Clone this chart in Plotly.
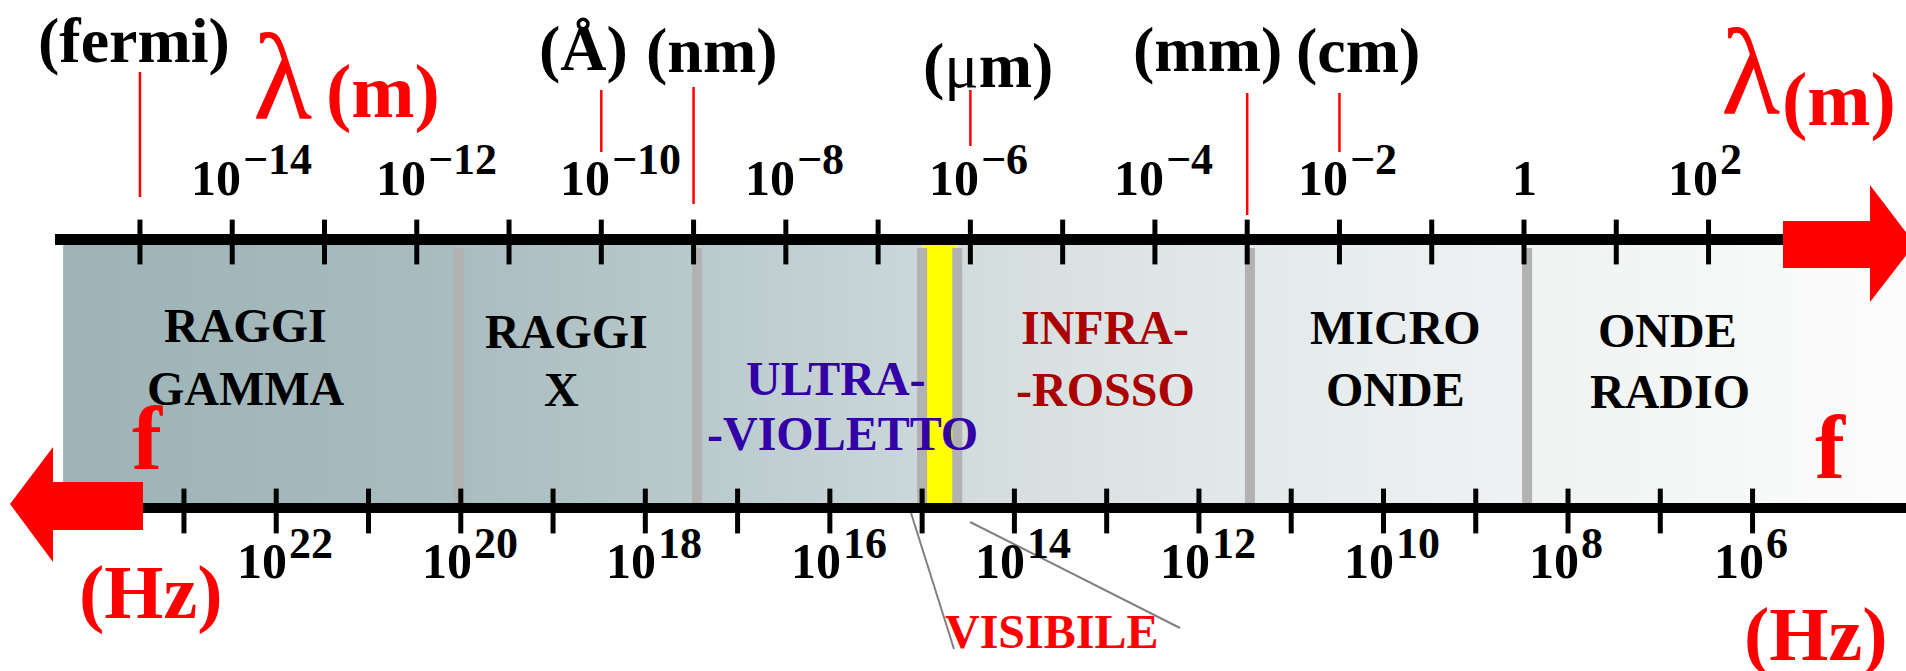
import numpy as np
import plotly.graph_objects as go

W, H = 1906, 671
FONT = "Liberation Serif"
RED = "#FF0000"

# ---------------------------------------------------------------- data
C_LIGHT = 3e8  # m/s, links frequency ticks to the wavelength scale

# wavelength axis (top): one tick per decade, labels every second decade
lam_tick_exp = [-15, -14, -13, -12, -11, -10, -9, -8, -7, -6, -5, -4, -3, -2, -1, 0, 1, 2]
lam_label_exp = [-14, -12, -10, -8, -6, -4, -2, 0, 2]

# frequency axis (bottom), in Hz
freq_tick_exp = [23, 22, 21, 20, 19, 18, 17, 16, 15, 14, 13, 12, 11, 10, 9, 8, 7, 6]
freq_label_exp = [22, 20, 18, 16, 14, 12, 10, 8, 6]

# named length units marked above the wavelength axis
unit_names = ["(fermi)", "(Å)", "(nm)", "(<span style='font-weight:normal'>μ</span>m)", "(mm)", "(cm)"]
unit_lam = [1e-15, 1e-10, 1e-9, 1e-6, 1e-3, 1e-2]

# spectral regions: boundaries between neighbouring regions (m)
band_edges_lam = [2.85e-12, 1.09e-9, 3.0e-7, 7.2e-7, 1.07e-3, 1.08]
visible_lam = [3.0e-7, 7.2e-7]
band_names = [("RAGGI", "GAMMA"), ("RAGGI", "X"), ("ULTRA-", "-VIOLETTO"),
              ("INFRA-", "-ROSSO"), ("MICRO", "ONDE"), ("ONDE", "RADIO")]
band_label_lam = [1.4e-14, 4.0e-11, 3.9e-8, 2.9e-5, 4.0e-2, 38.0]
band_text_colors = ["#000000", "#000000", "#3300A8", "#AA0000", "#000000", "#000000"]

# extent of the shaded strip and of the two axis rules (m)
strip_lam = [1.47e-16, 1.4e4]
top_rule_lam = [1.2e-16, 8e2]
bottom_rule_lam = [1.08e-15, 2e4]

# ---------------------------------------------------------------- layout constants (px)
TOP_RULE_Y, BOT_RULE_Y = 239.5, 508
STRIP_TOP, STRIP_BOT = 245, 503
TOP_TICK_Y, BOT_TICK_Y = 242, 511
STRIP_SCALE = [[0.0, "#9DB3B6"], [0.21, "#A9BCBF"], [0.346, "#BACACC"],
               [0.463, "#CBD7D8"], [0.487, "#D3DCDD"], [0.642, "#E3E9EA"],
               [0.79, "#EFF2F2"], [1.0, "#FCFCFC"]]

unit_line_y = [(72, 197), (90, 152), (87, 204), (90, 146), (93, 215), (93, 152)]
unit_label_y = [40, 48, 50, 65, 49, 50]
unit_label_dx = [-6, -18, 18, 18, -40, 19]
band_line_y = [(325, 388.5), (331, 389), (378, 433), (327, 389), (327, 389), (330, 391)]
band_line_dx = [(0, 0), (2, -3), (-4, 2), (0, 0), (0, 0), (-2, 0)]

fig = go.Figure()

# shaded strip with the horizontal grey gradient
s0, s1 = np.log10(strip_lam)
fig.add_trace(go.Scatter(
    x=[s0, s1, s1, s0, s0], y=[STRIP_TOP, STRIP_TOP, STRIP_BOT, STRIP_BOT, STRIP_TOP],
    mode="none", fill="toself",
    fillgradient=dict(type="horizontal", colorscale=STRIP_SCALE),
    hoverinfo="skip", showlegend=False))

# visible window
v0, v1 = np.log10(visible_lam)
fig.add_trace(go.Scatter(
    x=[v0, v1, v1, v0, v0], y=[244, 244, STRIP_BOT, STRIP_BOT, 244],
    mode="none", fill="toself", fillcolor="#FFFF00",
    hoverinfo="skip", showlegend=False))

# grey separators between regions
sx, sy = [], []
for e in band_edges_lam:
    sx += [np.log10(e), np.log10(e), None]
    sy += [248, STRIP_BOT, None]
fig.add_trace(go.Scatter(x=sx, y=sy, mode="lines",
                         line=dict(color="#B2B2B2", width=10),
                         hoverinfo="skip", showlegend=False))

# axis rules
fig.add_trace(go.Scatter(x=np.log10(top_rule_lam), y=[TOP_RULE_Y] * 2, mode="lines",
                         line=dict(color="black", width=11),
                         hoverinfo="skip", showlegend=False))
fig.add_trace(go.Scatter(x=np.log10(bottom_rule_lam), y=[BOT_RULE_Y] * 2, mode="lines",
                         line=dict(color="black", width=10),
                         hoverinfo="skip", showlegend=False))

# tick marks
lam_ticks_x = np.array(lam_tick_exp, dtype=float)
freq_ticks_x = np.log10(C_LIGHT) - np.array(freq_tick_exp, dtype=float)
for xs, yc in ((lam_ticks_x, TOP_TICK_Y), (freq_ticks_x, BOT_TICK_Y)):
    fig.add_trace(go.Scatter(
        x=xs, y=[yc] * len(xs), mode="markers",
        marker=dict(symbol="line-ns", size=32, line=dict(color="black", width=5)),
        hoverinfo="skip", showlegend=False))


def text(x, y, s, size, color="black", xref="x", xanchor="center", xshift=0, bold=True):
    fig.add_annotation(x=x, y=y, xref=xref, yref="y", text=s, showarrow=False,
                       xanchor=xanchor, yanchor="middle", xshift=xshift, borderpad=0,
                       font=dict(family=FONT, size=size, color=color,
                                 weight="bold" if bold else "normal"))


# wavelength labels
for e in lam_label_exp:
    if e == 0:
        text(0, 178, "1", 50)
        continue
    text(e, 178, "10", 50, xanchor="right", xshift=10)
    text(e, 159, str(e).replace("-", "−"), 44, xanchor="left", xshift=10)

# frequency labels
for e in freq_label_exp:
    xf = np.log10(C_LIGHT) - e
    text(xf, 561, "10", 50, xanchor="right", xshift=12)
    text(xf, 543, str(e), 44, xanchor="left", xshift=12)

# unit markers
for name, lam, (ya, yb), yl, dx in zip(unit_names, unit_lam, unit_line_y, unit_label_y, unit_label_dx):
    fig.add_shape(type="line", xref="x", yref="y", x0=np.log10(lam), x1=np.log10(lam),
                  y0=ya, y1=yb, line=dict(color=RED, width=2.5))
    text(np.log10(lam), yl, name, 64, xshift=dx)

# region names
for (l1, l2), lam, col, (y1, y2), (d1, d2) in zip(band_names, band_label_lam, band_text_colors,
                                                  band_line_y, band_line_dx):
    text(np.log10(lam), y1, l1, 48, color=col, xshift=d1)
    text(np.log10(lam), y2, l2, 48, color=col, xshift=d2)


def px(x):
    return x / W


# red direction arrows
right_arrow = [(1783, 221), (1870, 221), (1870, 185), (1915, 244), (1870, 302), (1870, 268), (1783, 268)]
left_arrow = [(143, 482), (53, 482), (53, 447), (10, 504), (53, 562), (53, 530), (143, 530)]
for pts in (right_arrow, left_arrow):
    path = "M " + " L ".join(f"{px(a):.5f},{b}" for a, b in pts) + " Z"
    fig.add_shape(type="path", xref="paper", yref="y", path=path,
                  fillcolor=RED, line=dict(width=0))

# leader lines to the visible label
for (xa, ya), (xb, yb) in (((911, 513), (954, 649)), ((970, 522), (1180, 628))):
    fig.add_shape(type="line", xref="paper", yref="y", x0=px(xa), y0=ya, x1=px(xb), y1=yb,
                  line=dict(color="#808080", width=2))

text(px(1051), 631, "VISIBILE", 48, color=RED, xref="paper")

# axis titles
text(px(252), 76, "λ", 122, color=RED, xref="paper", xanchor="left", bold=False)
text(px(383), 91, "(m)", 76, color=RED, xref="paper")
text(px(1720), 71, "λ", 122, color=RED, xref="paper", xanchor="left", bold=False)
text(px(1839), 99, "(m)", 76, color=RED, xref="paper")
text(px(147), 438, "f", 90, color=RED, xref="paper")
text(px(1830), 447, "f", 90, color=RED, xref="paper")
text(px(150), 592, "(Hz)", 76, color=RED, xref="paper")
text(px(1815), 634, "(Hz)", 76, color=RED, xref="paper")

u_left = -1524 / 92.27
u_right = (W - 1524) / 92.27
fig.update_layout(
    width=W, height=H, margin=dict(l=0, r=0, t=0, b=0),
    paper_bgcolor="white", plot_bgcolor="white", showlegend=False, hovermode=False,
    xaxis=dict(range=[u_left, u_right], visible=False, fixedrange=True),
    yaxis=dict(range=[H, 0], visible=False, fixedrange=True),
)

fig.write_html("out.html", config={"displayModeBar": False})
